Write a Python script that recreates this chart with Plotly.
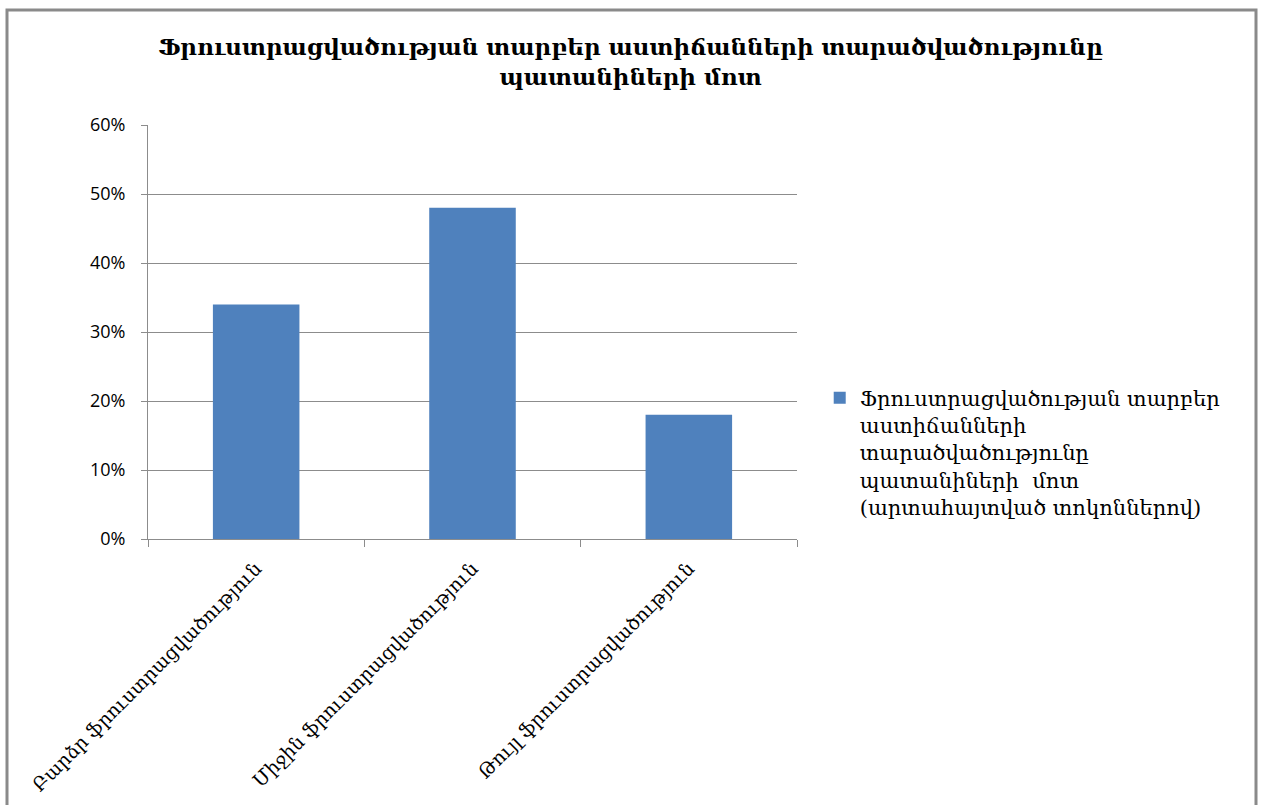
import plotly.graph_objects as go

# Frustration levels among adolescents (share of respondents)
categories = [
    "Բարձր ֆրուստրացվածություն",
    "Միջին ֆրուստրացվածություն",
    "Թույլ ֆրուստրացվածություն",
]
shares = [0.34, 0.48, 0.18]
y_ticks = [0, 0.1, 0.2, 0.3, 0.4, 0.5, 0.6]

title_text = ("Ֆրուստրացվածության տարբեր աստիճանների տարածվածությունը"
              "<br>պատանիների մոտ")
series_name = ("Ֆրուստրացվածության տարբեր<br>աստիճանների<br>"
               "տարածվածությունը<br>պատանիների  մոտ<br>"
               "(արտահայտված տոկոններով)")

serif = "DejaVu Serif"
grid = "#8c8c8c"

fig = go.Figure(
    go.Bar(
        x=categories,
        y=shares,
        name=series_name,
        marker=dict(color="#4F81BD", line=dict(width=0)),
        showlegend=True,
    )
)

fig.update_layout(
    width=1261,
    height=805,
    margin=dict(l=148, r=464, t=125, b=266),
    paper_bgcolor="white",
    plot_bgcolor="white",
    bargap=0.6,
    title=dict(
        text=title_text,
        xref="container",
        x=0.5,
        xanchor="center",
        y=1 - 55 / 805,
        yanchor="top",
        font=dict(family=serif, size=23, color="black", weight="bold"),
    ),
    legend=dict(
        x=1.035,
        y=0.39,
        xanchor="left",
        yanchor="top",
        valign="top",
        font=dict(family=serif, size=21, color="black"),
        itemwidth=30,
        bgcolor="rgba(0,0,0,0)",
    ),
    xaxis=dict(
        automargin=False,
        tickangle=-45,
        tickson="boundaries",
        ticks="outside",
        ticklen=7,
        tickcolor=grid,
        showline=True,
        linecolor=grid,
        linewidth=1,
        showgrid=False,
        ticklabelstandoff=10,
        tickfont=dict(family=serif, size=19, color="black"),
    ),
    yaxis=dict(
        automargin=False,
        range=[0, 0.6],
        tickvals=y_ticks,
        tickformat=".0%",
        ticks="outside",
        ticklen=6,
        tickcolor=grid,
        showline=True,
        linecolor=grid,
        linewidth=1,
        showgrid=True,
        gridcolor=grid,
        gridwidth=1,
        zeroline=False,
        ticklabelstandoff=12,
        tickfont=dict(family="Open Sans", size=18, color="black"),
    ),
    shapes=[
        dict(
            type="rect",
            xref="paper",
            yref="paper",
            x0=-141 / 649,
            x1=1108 / 649,
            y0=-300 / 414,
            y1=529 / 414,
            line=dict(color="#8a8a8a", width=3),
            fillcolor="rgba(0,0,0,0)",
            layer="below",
        )
    ],
)

fig.write_html("out.html")
